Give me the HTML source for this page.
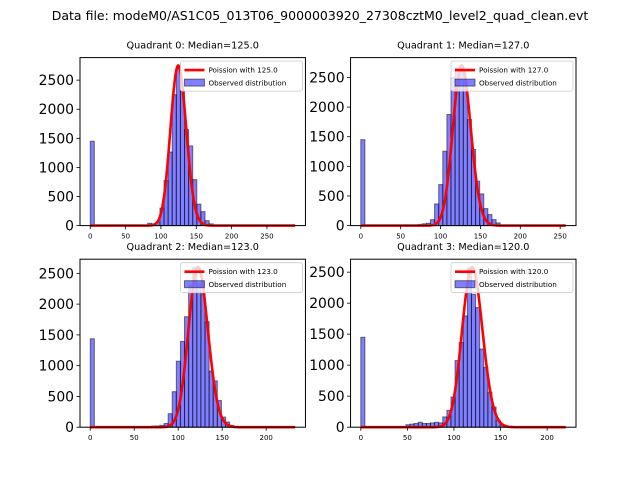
<!DOCTYPE html>
<html><head><meta charset="utf-8"><style>
html,body{margin:0;padding:0;background:#fff;}
svg{display:block;font-family:"DejaVu Sans","Liberation Sans",sans-serif;}
</style></head><body>
<svg id="fig" width="640" height="480" viewBox="0 0 640 480">
<rect width="640" height="480" fill="#fff"/>
<text x="320" y="20" font-size="12.5" text-anchor="middle">Data file: modeM0/AS1C05_013T06_9000003920_27308cztM0_level2_quad_clean.evt</text>
</svg>
<script>
// Quadrant data: counts per bin (50 bins from 0 to max)
const q0Counts = [1450,0,0,0,0,0,0,0,0,0,0,0,0,0,40,30,60,300,775,1265,2250,2700,2325,1650,1370,790,370,240,85,30,10,0,0,0,0,0,0,0,0,0,0,0,0,0,0,0,0,0,0,0];
const q1Counts = [1450,0,0,0,0,0,0,0,0,0,0,0,0,10,20,30,40,100,366,692,1255,1875,2495,2663,2690,2440,1790,1285,750,535,287,186,101,45,10,0,0,0,0,0,0,0,0,0,0,0,0,0,0,0];
const q2Counts = [1437,0,0,0,0,0,0,0,0,0,0,0,0,0,0,20,20,30,60,219,577,1073,1394,1795,2302,2596,2329,2169,1715,913,753,433,165,85,30,10,0,0,0,0,0,0,0,0,0,0,0,0,0,0];
const q3Counts = [1450,0,0,0,0,0,0,0,0,0,0,40,50,60,80,60,60,70,80,70,166,272,486,1074,1367,1795,2569,2142,1928,1261,966,566,326,112,32,10,0,0,0,0,0,0,0,0,0,0,0,0,0,0];
const dataMax = [290, 257, 233, 220];
const medians = [125, 127, 123, 120];
const linePeaks = [2750, 2700, 2600, 2580];
const yTicks = [0, 500, 1000, 1500, 2000, 2500];
const xTicks = [0, 50, 100, 150, 200, 250];

const counts = [q0Counts, q1Counts, q2Counts, q3Counts];
const NS = "http://www.w3.org/2000/svg";
const fig = document.getElementById('fig');
function mk(tag, attrs, parent){const e=document.createElementNS(NS,tag);for(const k in attrs)e.setAttribute(k,attrs[k]);(parent||fig).appendChild(e);return e;}
function lgamma(x){
  let s=0; while(x<8){s-=Math.log(x);x+=1;}
  return s+(x-0.5)*Math.log(x)-x+0.5*Math.log(2*Math.PI)+1/(12*x)-1/(360*x*x*x);
}
function logPmf(k,mu){return k*Math.log(mu)-mu-lgamma(k+1);}

const W=225.45, H=168;
const lefts=[80,350.55,80,350.55], tops=[57.6,57.6,259.2,259.2];
for(let q=0;q<4;q++){
  const L=lefts[q], T=tops[q], B=T+H;
  const c=counts[q], mx=dataMax[q], mu=medians[q];
  const bw=mx/c.length;
  const xmin=-0.05*mx, xmax=1.05*mx;
  const ymax=1.05*Math.max(Math.max(...c), linePeaks[q]);
  const X=v=>L+(v-xmin)/(xmax-xmin)*W;
  const Y=v=>B-v/ymax*H;
  const g=mk('g',{});
  
  
  const bars=mk('g',{},g);
  
  
  for(let i=0;i<c.length;i++){
    if(c[i]<=0) continue;
    const r=mk('rect',{x:X(i*bw),y:Y(c[i]),width:X((i+1)*bw)-X(i*bw),height:B-Y(c[i]),fill:'rgba(0,0,255,0.5)',stroke:'rgba(0,0,0,0.5)','stroke-width':1},bars);
    
    
  }
  const lp=logPmf(Math.round(mu),mu);
  let d='';
  for(let k=0;k<=Math.floor(mx);k++){
    const v=linePeaks[q]*Math.exp(logPmf(k,mu)-lp);
    d+=(k?'L':'M')+X(k).toFixed(2)+','+Y(v).toFixed(2);
  }
  const pl=mk('path',{d:d,fill:'none',stroke:'#ff0000','stroke-width':2.6,'stroke-linejoin':'round'},g);
  
  
  const fr=mk('rect',{x:L,y:T,width:W,height:H,fill:'none',stroke:'#000','stroke-width':1},g);
  
  
  for(const t of yTicks){
    if(t>ymax) continue;
    mk('line',{x1:L-3.5,x2:L,y1:Y(t),y2:Y(t),stroke:'#000','stroke-width':0.8},g);
    const tx=mk('text',{x:L-6,y:Y(t)+5,'font-size':13.9,'text-anchor':'end'},g);
    tx.textContent=t;
    
    
  }
  for(const t of xTicks){
    if(t>xmax) continue;
    mk('line',{x1:X(t),x2:X(t),y1:B,y2:B+3.5,stroke:'#000','stroke-width':0.8},g);
    const tx=mk('text',{x:X(t),y:B+13,'font-size':7,'text-anchor':'middle'},g);
    tx.textContent=t;
    
    
  }
  const ti=mk('text',{x:L+W/2,y:T-9,'font-size':9.7,'text-anchor':'middle'},g);
  ti.textContent='Quadrant '+q+': Median='+mu.toFixed(1);
  
  
  const lg=mk('g',{},g);
  
  
  const lw=122, lh=30, lx=L+W-lw-3, ly=T+3.5;
  mk('rect',{x:lx,y:ly,width:lw,height:lh,rx:2,fill:'rgba(255,255,255,0.8)',stroke:'#ccc','stroke-width':0.8},lg);
  mk('line',{x1:lx+4,x2:lx+24,y1:ly+9,y2:ly+9,stroke:'#ff0000','stroke-width':2.6},lg);
  mk('rect',{x:lx+4,y:ly+18,width:20,height:7,fill:'rgba(0,0,255,0.5)',stroke:'rgba(0,0,0,0.5)','stroke-width':1},lg);
  const t1=mk('text',{x:lx+28,y:ly+11.5,'font-size':7.2},lg);
  t1.textContent='Poission with '+mu.toFixed(1);
  
  
  const t2=mk('text',{x:lx+28,y:ly+24.5,'font-size':7.2},lg);
  t2.textContent='Observed distribution';
  
  
}
</script>
</body></html>
